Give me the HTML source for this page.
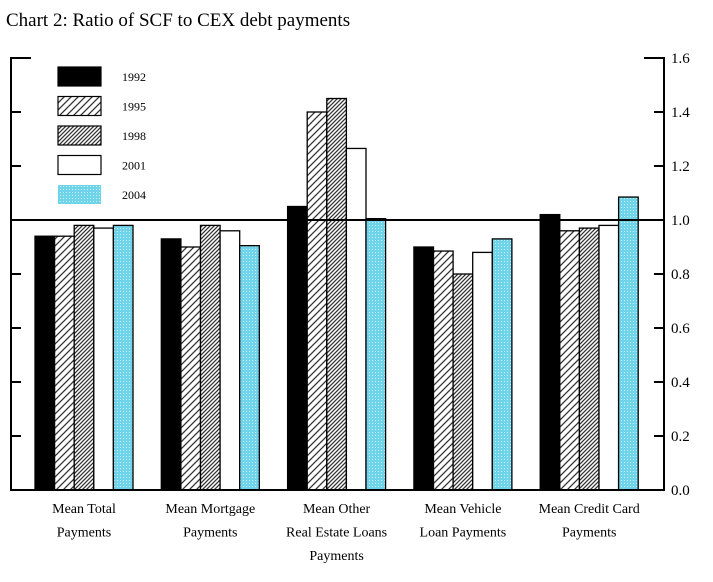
<!DOCTYPE html>
<html><head><meta charset="utf-8"><style>
body{margin:0;background:#fff;width:713px;height:577px;overflow:hidden}
svg{font-family:"Liberation Serif",serif}
</style></head><body>
<svg id="c" width="713" height="577">
<defs>
<pattern id="h1" width="7" height="7" patternUnits="userSpaceOnUse"><rect width="7" height="7" fill="#fff"/><path d="M0,7L7,0M-1,1L1,-1M6,8L8,6" stroke="#333" stroke-width="1.3"/></pattern>
<pattern id="h2" width="4" height="4" patternUnits="userSpaceOnUse"><rect width="4" height="4" fill="#fff"/><path d="M0,4L4,0M-1,1L1,-1M3,5L5,3" stroke="#333" stroke-width="1.3"/></pattern>
<pattern id="dt" width="3" height="3" patternUnits="userSpaceOnUse"><rect width="3" height="3" fill="#6fd3ea"/><rect width="1" height="1" fill="#c8f0fa"/></pattern>
</defs>
<text x="6" y="26" font-size="19">Chart 2: Ratio of SCF to CEX debt payments</text>
<g id="plot"></g>
</svg>
<script>
const categories=[["Mean Total","Payments"],["Mean Mortgage","Payments"],["Mean Other","Real Estate Loans","Payments"],["Mean Vehicle","Loan Payments"],["Mean Credit Card","Payments"]];
const years=["1992","1995","1998","2001","2004"];
const s1992=[0.94,0.93,1.05,0.90,1.02];
const s1995=[0.94,0.90,1.40,0.885,0.96];
const s1998=[0.98,0.98,1.45,0.80,0.97];
const s2001=[0.97,0.96,1.265,0.88,0.98];
const s2004=[0.98,0.905,1.005,0.93,1.085];
const ticks=["0.0","0.2","0.4","0.6","0.8","1.0","1.2","1.4","1.6"];
const series=[s1992,s1995,s1998,s2001,s2004];
const fills=["#000","url(#h1)","url(#h2)","#fff","url(#dt)"];
const NS="http://www.w3.org/2000/svg";
const g=document.getElementById('plot');
const L=11,R=664,T=58,B=490;
const y=v=>B-(v/1.6)*(B-T);
const gx=i=>35+i*126.3, bw=19.6;
function mk(t,a,p){const e=document.createElementNS(NS,t);for(const k in a)e.setAttribute(k,a[k]);(p||g).appendChild(e);return e;}
series.forEach((s,si)=>s.forEach((v,ci)=>{
 const r=mk('rect',{x:gx(ci)+si*bw,y:y(v),width:bw,height:B-y(v),fill:fills[si],stroke:"#000","stroke-width":1.3});
 
 
}));
const ax=mk('path',{d:`M${L+20},${T}H${L}V${B}H${R}V${T}H${R-20}`,fill:"none",stroke:"#000","stroke-width":2});


const ref=mk('line',{x1:L,x2:R,y1:y(1),y2:y(1),stroke:"#000","stroke-width":2});


ticks.forEach(t=>{const v=parseFloat(t),yy=y(v);
 if(v>0&&v<1.6){mk('line',{x1:L,x2:L+10,y1:yy,y2:yy,stroke:"#000","stroke-width":2});mk('line',{x1:R-10,x2:R,y1:yy,y2:yy,stroke:"#000","stroke-width":2});}
 const tx=mk('text',{x:671,y:yy+5,"font-size":15});tx.textContent=t;
 
 
});
categories.forEach((c,ci)=>{const cx=gx(ci)+bw*2.5;
 c.forEach((ln,li)=>{const t=mk('text',{x:cx,y:513+li*23.5,"font-size":14,"text-anchor":"middle"});t.textContent=ln;
 
 });
});
years.forEach((yr,i)=>{const yy=67+i*29.5;
 const r=mk('rect',{x:58,y:yy,width:43,height:19,fill:fills[i],stroke:i==4?"none":"#000","stroke-width":1.2});
 
 
 const t=mk('text',{x:122,y:yy+14,"font-size":12});t.textContent=yr;
 
 
});
</script>
</body></html>
